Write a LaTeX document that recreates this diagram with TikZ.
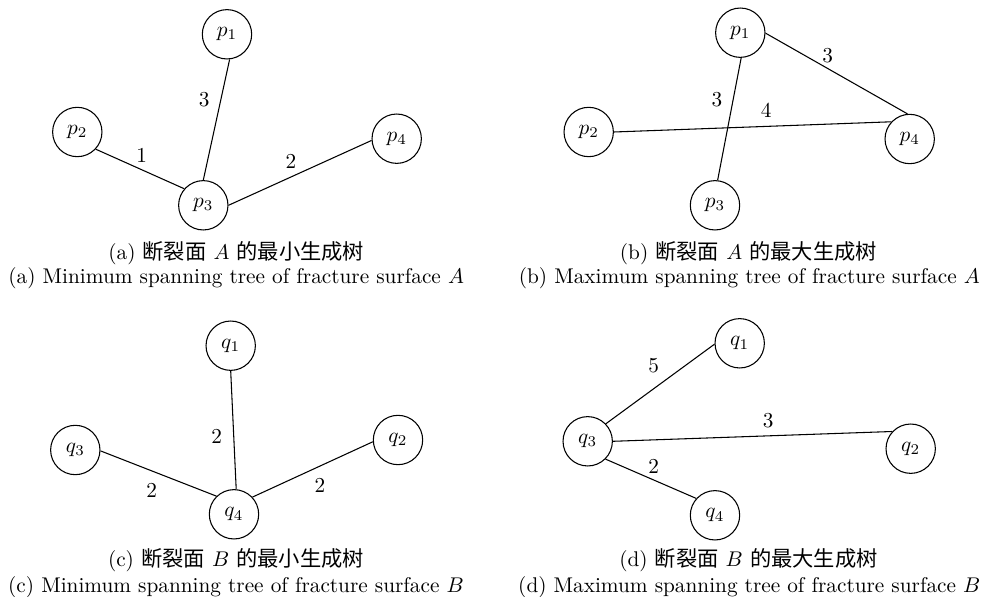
\documentclass[tikz,border=0pt]{standalone}
\usepackage{fontspec}
\newfontfamily\cjk{Noto Sans CJK SC}
\begin{document}
\begin{tikzpicture}[x=0.47pt,y=-0.47pt,
  vtx/.style={circle,draw,line width=0.5pt,minimum size=23.2pt,inner sep=0pt},
  edge/.style={line width=0.5pt},
  wlab/.style={inner sep=0pt,font=\normalsize},
  captxt/.style={inner sep=0pt,anchor=center}]
\useasboundingbox (0,0) rectangle (982,597);
% ---------- (a)
\node[vtx] (a1) at (227,34.3) {$p_1$};
\node[vtx] (a2) at (77.3,132) {$p_2$};
\node[vtx] (a3) at (203.3,205.3) {$p_3$};
\node[vtx] (a4) at (396.7,138.7) {$p_4$};
\draw[edge] (a1.-84) -- (a3.90);
\draw[edge] (a2.-43) -- (a3.139);
\draw[edge] (a3.0) -- (a4.184);
\node[wlab] (la1) at (204.3,99.3) {3};
\node[wlab] (la2) at (141.7,155) {1};
\node[wlab] (la3) at (291,161.7) {2};
\node[captxt] (ca1) at (236.3,253.3) {(a) {\cjk 断裂面} $A$ {\cjk 的最小生成树}};
\node[captxt] (ca2) at (236.2,278.3) {(a) Minimum spanning tree of fracture surface $A$};
% ---------- (b)
\node[vtx] (b1) at (740.3,32.7) {$p_1$};
\node[vtx] (b2) at (588.7,132) {$p_2$};
\node[vtx] (b3) at (715,205.3) {$p_3$};
\node[vtx] (b4) at (909.7,139) {$p_4$};
\draw[edge] (b1.-1) -- (b4.95);
\draw[edge] (b1.-88) -- (b3.84);
\draw[edge] (b2.0) -- (b4.137);
\node[wlab] (lb1) at (827.7,56) {3};
\node[wlab] (lb2) at (717,100) {3};
\node[wlab] (lb3) at (766.3,110.7) {4};
\node[captxt] (cb1) at (748.5,253.3) {(b) {\cjk 断裂面} $A$ {\cjk 的最大生成树}};
\node[captxt] (cb2) at (749.3,278.3) {(b) Maximum spanning tree of fracture surface $A$};
% ---------- (c)
\node[vtx] (c1) at (230.7,345.7) {$q_1$};
\node[vtx] (c3) at (75.3,450) {$q_3$};
\node[vtx] (c4) at (234,514.3) {$q_4$};
\node[vtx] (c2) at (398,440) {$q_2$};
\draw[edge] (c1.-90) -- (c4.85);
\draw[edge] (c3.-2) -- (c4.134);
\draw[edge] (c4.43) -- (c2.184);
\node[wlab] (lc1) at (216.7,436.7) {2};
\node[wlab] (lc2) at (151.7,490) {2};
\node[wlab] (lc3) at (320,485) {2};
\node[captxt] (cc1) at (236,560) {(c) {\cjk 断裂面} $B$ {\cjk 的最小生成树}};
\node[captxt] (cc2) at (236,586.7) {(c) Minimum spanning tree of fracture surface $B$};
% ---------- (d)
\node[vtx] (d1) at (739.7,343.3) {$q_1$};
\node[vtx] (d3) at (587.7,441.3) {$q_3$};
\node[vtx] (d2) at (910.7,448.7) {$q_2$};
\node[vtx] (d4) at (715,515.3) {$q_4$};
\draw[edge] (d3.44) -- (d1.182);
\draw[edge] (d3.0) -- (d2.137);
\draw[edge] (d3.-45) -- (d4.138);
\node[wlab] (ld1) at (653.7,366) {5};
\node[wlab] (ld2) at (768.3,420.7) {3};
\node[wlab] (ld3) at (653.7,466) {2};
\node[captxt] (cd1) at (748.5,560) {(d) {\cjk 断裂面} $B$ {\cjk 的最大生成树}};
\node[captxt] (cd2) at (749.3,586.7) {(d) Maximum spanning tree of fracture surface $B$};
\end{tikzpicture}
\end{document}
